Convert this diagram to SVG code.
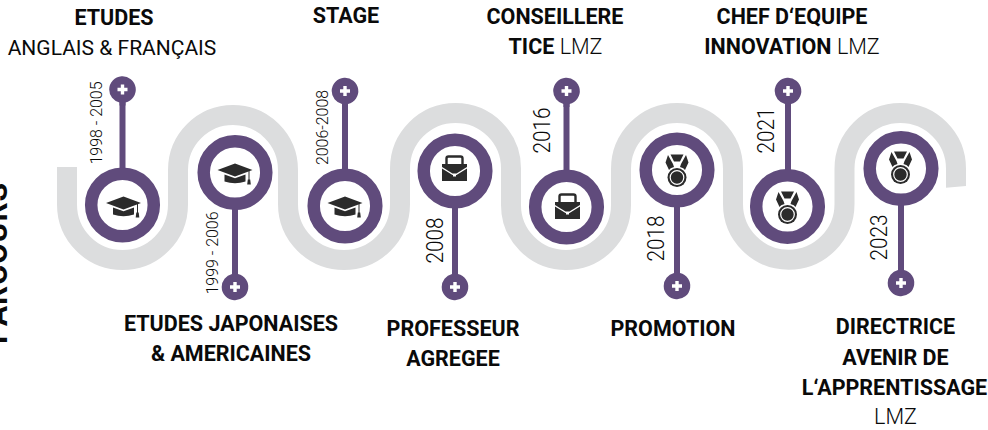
<svg xmlns="http://www.w3.org/2000/svg" width="988" height="430" viewBox="0 0 988 430">
<style>
text{font-family:Roboto,"Liberation Sans",sans-serif;fill:#0a0a0a}
.t{font-size:21.5px;font-weight:700;text-anchor:middle}
.r{font-weight:300}
.n{font-size:21px;font-weight:400;text-anchor:middle}
.l{font-size:21.500px;font-weight:300;text-anchor:middle}
.d{font-size:17px;font-weight:300}
.y{font-size:23px;font-weight:300}
.stem{stroke:#604b7c;stroke-width:6;fill:none}
.ring{fill:#fff;stroke:#604b7c;stroke-width:12.5}
.pin{fill:#604b7c}
.plus{stroke:#fff;stroke-width:3.4;fill:none}
.ic{fill:#2b2b2b}
</style>
<defs>
<g id="cap">
<path class="ic" d="M0-9.500L17.500-3 0 3.500-17.500-3Z"/>
<path class="ic" d="M-10.500 1.500L0 5.300 10.500 1.500V8.500Q0 12-10.500 8.500Z"/>
<path d="M14-2.500V7" stroke="#2b2b2b" stroke-width="1" fill="none"/>
<path class="ic" d="M12.800 6.500h2.400l.6 5h-3.600Z"/>
</g>
<g id="case">
<path d="M-8-6V-12.500Q-8-14.500-6-14.500H6Q8-14.500 8-12.500V-6" fill="none" stroke="#2b2b2b" stroke-width="2.400"/>
<path class="ic" d="M-12.500-7H12.500V-4L2 2.500H-2L-12.500-4Z"/>
<path class="ic" d="M-12.500-2.500L-2 4H-1.500V5.500H1.500V4H2L12.500-2.500V10H-12.500Z"/>
</g>
<g id="medal">
<path class="ic" d="M-6.500-15.500H6.500L3-8.500H-3Z"/>
<path class="ic" d="M-9-15L-4-6-3-3Q-7-2-8 0L-11.500-7.500Z"/>
<path class="ic" d="M9-15L4-6 3-3Q7-2 8 0L11.500-7.500Z"/>
<circle class="ic" cx="0" cy="7.500" r="9.500"/>
<circle cx="0" cy="7.500" r="6.800" fill="none" stroke="#fff" stroke-width="1.200"/>
</g>
<g id="pinup">
<path class="pin" d="M-13.300 0A13.300 13.300 0 1 1 3 13Q3 16 3 16H-3Q-3 16-3 13A13.300 13.300 0 0 1-13.300 0Z"/>
<path class="plus" d="M-5 0H5M0-5V5"/>
</g>
<g id="pindn">
<path class="pin" d="M-13.300 0A13.300 13.300 0 1 0 3-13Q3-16 3-16H-3Q-3-16-3-13A13.300 13.300 0 0 0-13.300 0Z"/>
<path class="plus" d="M-5 0H5M0-5V5"/>
</g>
</defs>

<g id="connectors">
<path id="road" fill="none" stroke="#dcddde" stroke-width="20" d="M67 167V204.500A55.500 55.500 0 0 0 178 204.500V170A55 55 0 0 1 288 170V204A56 56 0 0 0 400 204V168.500A55.500 55.500 0 0 1 511 168.500V205A55 55 0 0 0 621 205V169A56 56 0 0 1 733 169V204A55.750 55.750 0 0 0 844.500 204V168.800A55.750 55.750 0 0 1 956 168.800V186"/>
<path d="M946 186H966L946 187.800Z" fill="#dcddde"/>
<path class="stem" d="M122.500 100V170"/>
<path class="stem" d="M235 205V275"/>
<path class="stem" d="M345 100V170"/>
<path class="stem" d="M455 205V275"/>
<path class="stem" d="M566.500 100V172"/>
<path class="stem" d="M677 205V274"/>
<path class="stem" d="M788 100V172"/>
<path class="stem" d="M901 204V271"/>
</g>

<text transform="translate(7 344) rotate(-90)" font-size="30" font-weight="700" style="letter-spacing:1px">PARCOURS</text>

<g id="node1"><use href="#pinup" x="122.500" y="89.500"/><circle class="ring" cx="122.500" cy="205" r="31.300"/><use href="#cap" x="123.500" y="206"/>
<text class="d" transform="translate(102 164.500) rotate(-90)" textLength="83" lengthAdjust="spacingAndGlyphs">1998 - 2005</text>
<text class="t" x="114" y="24.500">ETUDES</text><text class="n" x="112" y="54.500">ANGLAIS &amp; FRANÇAIS</text></g>

<g id="node2"><use href="#pindn" x="235" y="287"/><circle class="ring" cx="235" cy="172.500" r="31.300"/><use href="#cap" x="235" y="173"/>
<text class="d" transform="translate(218 294.500) rotate(-90)" textLength="83" lengthAdjust="spacingAndGlyphs">1999 - 2006</text>
<text class="t" x="231" y="331">ETUDES JAPONAISES</text><text class="t" x="231" y="361">&amp; AMERICAINES</text></g>

<g id="node3"><use href="#pinup" x="345" y="91"/><circle class="ring" cx="345" cy="206" r="31.300"/><use href="#cap" x="345" y="206"/>
<text class="d" transform="translate(328 165) rotate(-90)" textLength="75" lengthAdjust="spacingAndGlyphs">2006-2008</text>
<text class="t" x="346" y="23">STAGE</text></g>

<g id="node4"><use href="#pindn" x="455" y="287"/><circle class="ring" cx="455" cy="171" r="31.300"/><use href="#case" x="454.500" y="171"/>
<text class="y" transform="translate(443 263.500) rotate(-90)" textLength="46" lengthAdjust="spacingAndGlyphs">2008</text>
<text class="t" x="453" y="336">PROFESSEUR</text><text class="t" x="453" y="366">AGREGEE</text></g>

<g id="node5"><use href="#pinup" x="566.500" y="91"/><circle class="ring" cx="566.500" cy="207" r="31.300"/><use href="#case" x="567.500" y="209"/>
<text class="y" transform="translate(549.500 153.500) rotate(-90)" textLength="46" lengthAdjust="spacingAndGlyphs">2016</text>
<text class="t" x="555" y="23.500">CONSEILLERE</text><text class="t" x="555.500" y="53.500">TICE <tspan class="r">LMZ</tspan></text></g>

<g id="node6"><use href="#pindn" x="677" y="286"/><circle class="ring" cx="677" cy="170" r="31.300"/><use href="#medal" x="677" y="170"/>
<text class="y" transform="translate(664 261.500) rotate(-90)" textLength="46" lengthAdjust="spacingAndGlyphs">2018</text>
<text class="t" x="673" y="336">PROMOTION</text></g>

<g id="node7"><use href="#pinup" x="788" y="91"/><circle class="ring" cx="787.500" cy="206.500" r="31.300"/><use href="#medal" x="787.500" y="207"/>
<text class="y" transform="translate(774 153.500) rotate(-90)" textLength="46" lengthAdjust="spacingAndGlyphs">2021</text>
<text class="t" x="792" y="23.500">CHEF D‘EQUIPE</text><text class="t" x="792" y="53.500">INNOVATION <tspan class="r">LMZ</tspan></text></g>

<g id="node8"><use href="#pindn" x="901" y="283"/><circle class="ring" cx="901" cy="168.500" r="31.300"/><use href="#medal" x="900.500" y="167"/>
<text class="y" transform="translate(887 260.500) rotate(-90)" textLength="46" lengthAdjust="spacingAndGlyphs">2023</text>
<text class="t" x="895.500" y="334">DIRECTRICE</text><text class="t" x="895.500" y="365">AVENIR DE</text><text class="t" x="894.500" y="395">L‘APPRENTISSAGE</text><text class="l" x="895.500" y="424">LMZ</text></g>
</svg>
